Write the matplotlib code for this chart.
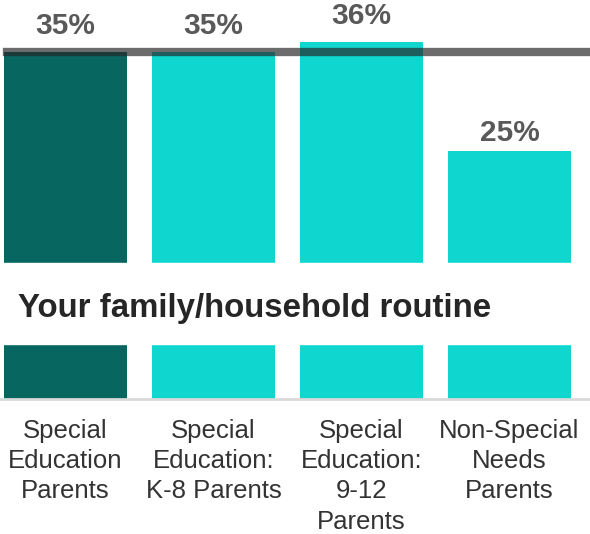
import matplotlib
matplotlib.use("Agg")
import matplotlib.pyplot as plt

categories = ["Special\nEducation\nParents", "Special\nEducation:\nK-8 Parents",
              "Special\nEducation:\n9-12\nParents", "Non-Special\nNeeds\nParents"]
values = [35, 35, 36, 25]
reference_value = 35
title_text = "Your family/household routine"

plt.rcParams['font.family'] = ['Liberation Sans', 'DejaVu Sans']

W, H = 590, 534
fig = plt.figure(figsize=(W / 100, H / 100), dpi=100)
ax = fig.add_axes([0, (H - 398.5) / H, 1, 398.5 / H])

colors = ["#086661"] + ["#0fd6cf"] * (len(values) - 1)
x = list(range(len(values)))
ax.bar(x, values, width=0.83, color=colors, zorder=2)

ax.set_xlim(-0.4426, 3.544)
ax.set_ylim(0, 40.25)

# reference line
ax.axhline(reference_value, xmin=7 / W, xmax=1, color="#262626", alpha=0.68,
           linewidth=6, zorder=3)

# white band with section title
ax.axhspan(5.5, 13.7, color="white", zorder=4)
ax.text(18 / W, 8.2, title_text, transform=ax.get_yaxis_transform(),
        ha="left", va="baseline", fontsize=23.8, fontweight="bold",
        color="#262626", zorder=5)

for xi, v in zip(x, values):
    off = 12 if v >= reference_value else 4
    ax.annotate(f"{v}%", (xi, v), xytext=(0, off), textcoords="offset pixels",
                ha="center", va="bottom", fontsize=21.5, fontweight="bold",
                color="#595959", annotation_clip=False, zorder=5)

ax.set_xticks(x)
ax.set_xticklabels(categories, fontsize=18.5, color="#333333", linespacing=1.32)
ax.tick_params(axis="x", length=0, pad=15)
ax.set_yticks([])
for s in ["top", "left", "right"]:
    ax.spines[s].set_visible(False)
ax.spines["bottom"].set_color("#d9d9d9")
ax.spines["bottom"].set_linewidth(2)
ax.spines["bottom"].set_zorder(6)

fig.savefig("out.png", dpi=100)
